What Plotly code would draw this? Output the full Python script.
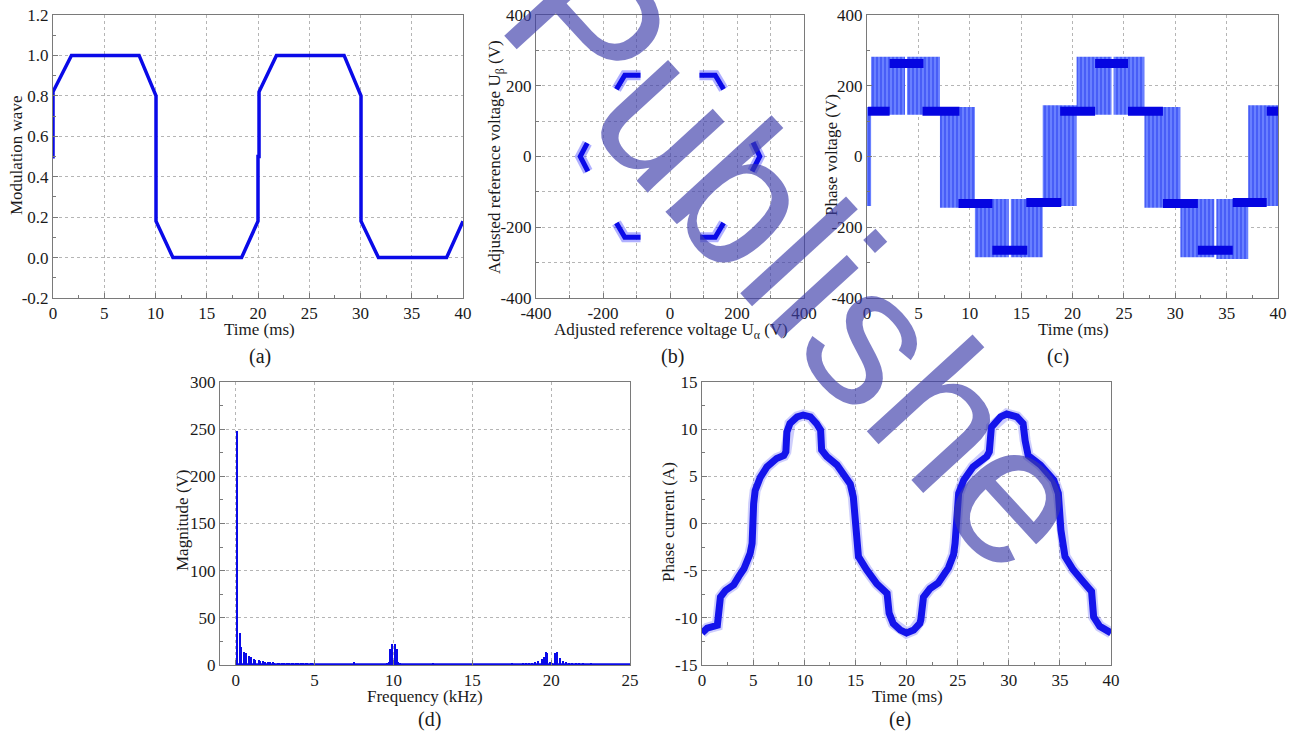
import plotly.graph_objects as go

W, H = 1298, 737

# ---------------- data ----------------
# (a) modulation wave
mod_time = [0.0, 0.0, 1.8, 8.4, 10.05, 10.05, 11.7, 18.4, 20.0, 20.0, 20.1, 20.1, 21.8, 28.4, 30.05, 30.05, 31.75, 38.4, 40.0]
mod_wave = [0.49, 0.82, 1.0, 1.0, 0.8, 0.18, 0.0, 0.0, 0.18, 0.5, 0.5, 0.82, 1.0, 1.0, 0.8, 0.18, 0.0, 0.0, 0.18]

# (b) adjusted reference voltage trajectory (six clusters near the hexagon vertices)
u_alpha = [-160, -135, -88, None, 88, 135, 160, None, 248, 268, 245, None,
           160, 135, 90, None, -88, -135, -160, None, -245, -268, -247]
u_beta = [190, 230, 230, None, 230, 230, 190, None, 40, 0, -42, None,
          -188, -228, -228, None, -228, -228, -188, None, -42, 0, 38]

# (c) phase voltage: switching envelopes and dominant levels
sw_start = [0.0, 0.4, 3.9, 7.1, 10.5, 14.0, 17.1, 20.4, 24.0, 27.0, 30.5, 34.0, 37.1]
sw_end = [0.4, 3.7, 7.1, 10.5, 13.8, 17.1, 20.4, 23.8, 27.0, 30.5, 33.8, 37.1, 40.0]
sw_low = [-140, 118, 118, -145, -285, -285, -140, 118, 118, -145, -285, -290, -140]
sw_high = [140, 282, 282, 140, -120, -120, 145, 282, 282, 140, -120, -120, 145]
lvl_start = [0.1, 2.2, 5.4, 8.9, 12.2, 15.5, 18.8, 22.2, 25.4, 28.8, 32.2, 35.6, 38.9]
lvl_end = [2.2, 5.5, 9.0, 12.2, 15.6, 18.9, 22.2, 25.4, 28.8, 32.2, 35.6, 38.9, 40.0]
lvl_volt = [128, 263, 128, -133, -265, -130, 128, 263, 128, -133, -265, -130, 128]

# (d) spectrum
spec_freq = [0.05, 0.25, 0.35, 0.55, 0.65, 0.85, 0.95, 1.15, 1.25, 1.45, 1.55, 1.75, 1.85, 2.05, 2.15,
             2.35, 2.45, 2.65, 2.75, 2.95, 3.05, 3.25, 3.35, 3.55, 3.65, 3.85, 3.95, 4.15, 4.25, 4.45,
             4.55, 4.75, 4.85, 7.5, 9.6, 9.7, 9.8, 9.9, 10.1, 10.2, 10.3, 10.4, 12.5, 17.5, 18.2, 18.4,
             18.6, 18.8, 19.0, 19.2, 19.4, 19.55, 19.65, 19.75, 19.95, 20.05, 20.25, 20.35, 20.55, 20.75,
             20.95, 21.15, 21.35, 21.6, 21.8, 22.0, 22.5]
spec_mag = [248, 34, 19, 14, 12.5, 9.5, 8, 6.5, 5.5, 4.8, 4.3, 3.8, 3.5, 3.2, 3.0,
            2.7, 2.5, 2.3, 2.2, 2.0, 1.9, 1.8, 1.7, 1.6, 1.5, 1.4, 1.4, 1.3, 1.3, 1.2,
            1.2, 1.1, 1.1, 2.8, 1.5, 3, 17, 22, 22, 17, 3, 1.5, 2, 2.5, 1.5, 1.5,
            1.8, 2, 3, 4, 6, 8, 14, 13, 3, 2, 13, 14, 7, 4,
            3, 2.5, 2, 1.5, 1.3, 1.2, 2.5]
floor_freq = [0.0, 25.0]
floor_mag = [0.8, 0.8]

# (e) phase current
cur_time = [0, 0.5, 1.5, 1.6, 1.8, 2.3, 3.1, 3.6, 4.1, 4.7, 4.9, 5.05, 5.2, 5.7, 6.35, 7.3, 8.0, 8.2, 8.3, 8.6,
            9.3, 9.9, 10.6, 11.2, 11.6, 11.7, 12.2, 13.2, 13.8, 14.5, 14.8, 15.1, 15.3, 16.1, 17.1, 18.1,
            18.3, 18.7, 19.4, 20.0, 20.7, 21.3, 21.4, 21.66, 22.3, 23.1, 23.6, 24.1, 24.6, 24.75, 25.1,
            25.6, 26.5, 27.85, 28.1, 28.3, 29.2, 29.8, 30.8, 31.4, 31.6, 31.9, 33.1, 34.4, 34.85, 35.1,
            35.5, 36.3, 37.3, 38.1, 38.3, 38.9, 40.0]
cur_amp = [-11.6, -11.1, -10.8, -10.0, -7.8, -7.1, -6.5, -5.6, -4.8, -3.2, -2.1, 2.1, 3.5, 4.9, 6.0, 6.9,
           7.2, 7.6, 9.7, 10.6, 11.3, 11.5, 11.3, 10.6, 9.9, 7.8, 7.1, 6.2, 5.3, 4.2, 2.8, -1.4, -3.5,
           -4.9, -6.4, -7.4, -9.5, -10.6, -11.3, -11.6, -11.3, -10.6, -10.2, -7.8, -6.9, -6.3, -5.5,
           -4.7, -3.3, -2.1, 3.2, 4.6, 6.0, 7.1, 7.6, 10.2, 11.3, 11.6, 11.3, 10.6, 8.8, 7.2, 6.2, 4.6,
           3.2, -0.7, -3.5, -4.9, -6.2, -7.2, -9.9, -10.9, -11.6]

# tick definitions
time_ticks = [0, 5, 10, 15, 20, 25, 30, 35, 40]
time_labels = ["0", "5", "10", "15", "20", "25", "30", "35", "40"]
time_minor = [2.5, 7.5, 12.5, 17.5, 22.5, 27.5, 32.5, 37.5]
mod_ticks = [-0.2, 0.0, 0.2, 0.4, 0.6, 0.8, 1.0, 1.2]
mod_labels = ["-0.2", "0.0", "0.2", "0.4", "0.6", "0.8", "1.0", "1.2"]
mod_minor = [-0.1, 0.1, 0.3, 0.5, 0.7, 0.9, 1.1]
uab_ticks = [-400, -200, 0, 200, 400]
uab_labels = ["-400", "-200", "0", "200", "400"]
uab_minor = [-300, -100, 100, 300]
pv_ticks = [-400, -200, 0, 200, 400]
pv_labels = ["-400", "-200", "0", "200", "400"]
pv_minor = [-300, -100, 100, 300]
freq_ticks = [0, 5, 10, 15, 20, 25]
freq_labels = ["0", "5", "10", "15", "20", "25"]
mag_ticks = [0, 50, 100, 150, 200, 250, 300]
mag_labels = ["0", "50", "100", "150", "200", "250", "300"]
mag_minor = [25, 75, 125, 175, 225, 275]
cur_ticks = [-15, -10, -5, 0, 5, 10, 15]
cur_labels = ["-15", "-10", "-5", "0", "5", "10", "15"]
cur_minor = [-12.5, -7.5, -2.5, 2.5, 7.5, 12.5]

# ---------------- figure ----------------
BLUE = "rgb(10,10,232)"
FONT = "Liberation Serif"
fig = go.Figure()

# (a)
fig.add_trace(go.Scatter(x=mod_time, y=mod_wave, mode="lines", xaxis="x", yaxis="y",
                         line=dict(color=BLUE, width=3.5), showlegend=False))
# (b)
fig.add_trace(go.Scatter(x=u_alpha, y=u_beta, mode="lines", xaxis="x2", yaxis="y2",
                         line=dict(color="rgba(30,30,255,0.35)", width=10), showlegend=False))
fig.add_trace(go.Scatter(x=u_alpha, y=u_beta, mode="lines", xaxis="x2", yaxis="y2",
                         line=dict(color=BLUE, width=5), showlegend=False))
# (c)
bx, by = [], []
for t0, t1, lo, hi in zip(sw_start, sw_end, sw_low, sw_high):
    bx += [t0, t1, t1, t0, t0, None]
    by += [lo, lo, hi, hi, lo, None]
fig.add_trace(go.Scatter(x=bx, y=by, mode="lines", fill="toself", xaxis="x3", yaxis="y3",
                         fillcolor="rgba(70,100,255,0.75)", line=dict(width=0),
                         fillpattern=dict(shape="|", size=4, solidity=0.5,
                                          fgcolor="rgb(40,60,240)", bgcolor="rgb(105,128,255)"),
                         showlegend=False))
lx, ly = [], []
for t0, t1, v in zip(lvl_start, lvl_end, lvl_volt):
    lx += [t0, t1, None]
    ly += [v, v, None]
fig.add_trace(go.Scatter(x=lx, y=ly, mode="lines", xaxis="x3", yaxis="y3",
                         line=dict(color="rgb(5,5,225)", width=9), showlegend=False))
# (d)
fig.add_trace(go.Scatter(x=floor_freq, y=floor_mag, mode="lines", xaxis="x4", yaxis="y4",
                         line=dict(color=BLUE, width=2), showlegend=False))
fig.add_trace(go.Bar(x=spec_freq, y=spec_mag, width=0.07, xaxis="x4", yaxis="y4",
                     marker=dict(color=BLUE, line=dict(width=0)), showlegend=False))
# (e)
fig.add_trace(go.Scatter(x=cur_time, y=cur_amp, mode="lines", xaxis="x5", yaxis="y5",
                         line=dict(color="rgba(30,30,240,0.22)", width=11), showlegend=False))
fig.add_trace(go.Scatter(x=cur_time, y=cur_amp, mode="lines", xaxis="x5", yaxis="y5",
                         line=dict(color="rgb(20,20,235)", width=7), showlegend=False))


def xdom(a, b):
    return [a / W, b / W]


def ydom(top, bottom):
    return [1 - bottom / H, 1 - top / H]


def axis(domain, anchor, rng, tv, tt, minor=None, minor_grid=False):
    d = dict(domain=domain, anchor=anchor, range=rng, tickvals=tv, ticktext=tt,
             automargin=False,
             showline=True, linecolor="#7a7a7a", linewidth=1, mirror=True,
             ticks="inside", ticklen=5, tickcolor="#7a7a7a",
             showgrid=True, gridcolor="#b5b5b5", griddash="dot", gridwidth=1,
             zeroline=False, tickfont=dict(family=FONT, size=17, color="#1a1a1a"),
             fixedrange=True)
    if minor is not None:
        d["minor"] = dict(tickvals=minor, ticks="inside", ticklen=3, tickcolor="#7a7a7a",
                          showgrid=minor_grid, gridcolor="#b5b5b5", griddash="dot", gridwidth=1)
    return d


fig.update_layout(
    width=W, height=H, margin=dict(l=0, r=0, t=0, b=0, autoexpand=False),
    paper_bgcolor="white", plot_bgcolor="white", bargap=0,
    xaxis=axis(xdom(53, 463), "y", [0, 40], time_ticks, time_labels, time_minor),
    yaxis=axis(ydom(15, 298), "x", [-0.2, 1.2], mod_ticks, mod_labels, mod_minor),
    xaxis2=axis(xdom(536, 804), "y2", [-400, 400], uab_ticks, uab_labels, uab_minor, True),
    yaxis2=axis(ydom(15, 298), "x2", [-400, 400], uab_ticks, uab_labels, uab_minor, True),
    xaxis3=axis(xdom(867, 1278), "y3", [0, 40], time_ticks, time_labels, time_minor),
    yaxis3=axis(ydom(15, 298), "x3", [-400, 400], pv_ticks, pv_labels, pv_minor),
    xaxis4=axis(xdom(220, 630), "y4", [-1, 25], freq_ticks, freq_labels),
    yaxis4=axis(ydom(382, 665), "x4", [0, 300], mag_ticks, mag_labels, mag_minor),
    xaxis5=axis(xdom(702, 1111), "y5", [0, 40], time_ticks, time_labels, time_minor),
    yaxis5=axis(ydom(382, 665), "x5", [-15, 15], cur_ticks, cur_labels, cur_minor),
)


def note(text, x, y, size=17, angle=0):
    fig.add_annotation(text=text, x=x / W, y=1 - y / H, xref="paper", yref="paper",
                       showarrow=False, textangle=angle, xanchor="center", yanchor="middle",
                       font=dict(family=FONT, size=size, color="#1a1a1a"))


note("Modulation wave", 16, 156, angle=-90)
note("Time (ms)", 259, 330)
note("Adjusted reference voltage U<sub>β</sub> (V)", 496, 157, angle=-90)
note("Adjusted reference voltage U<sub>α</sub> (V)", 671, 331)
note("Phase voltage (V)", 831, 155, angle=-90)
note("Time (ms)", 1073, 330)
note("Magnitude (V)", 182, 520, angle=-90)
note("Frequency (kHz)", 425, 696)
note("Phase current (A)", 668, 522, angle=-90)
note("Time (ms)", 907, 696)
note("(a)", 260, 356, size=20)
note("(b)", 672, 356, size=20)
note("(c)", 1058, 356, size=20)
note("(d)", 429, 719, size=20)
note("(e)", 900, 719, size=20)

# watermark
fig.add_annotation(text="Publishe", x=800 / W, y=1 - 258 / H, xref="paper", yref="paper",
                   showarrow=False, textangle=47.5, xanchor="center", yanchor="middle",
                   font=dict(family="Liberation Sans", size=198, color="rgba(60,60,170,0.66)"))

fig.write_html("out.html", config={"displayModeBar": False},
               post_script="document.body.style.margin='0px';document.body.style.overflow='hidden';")
